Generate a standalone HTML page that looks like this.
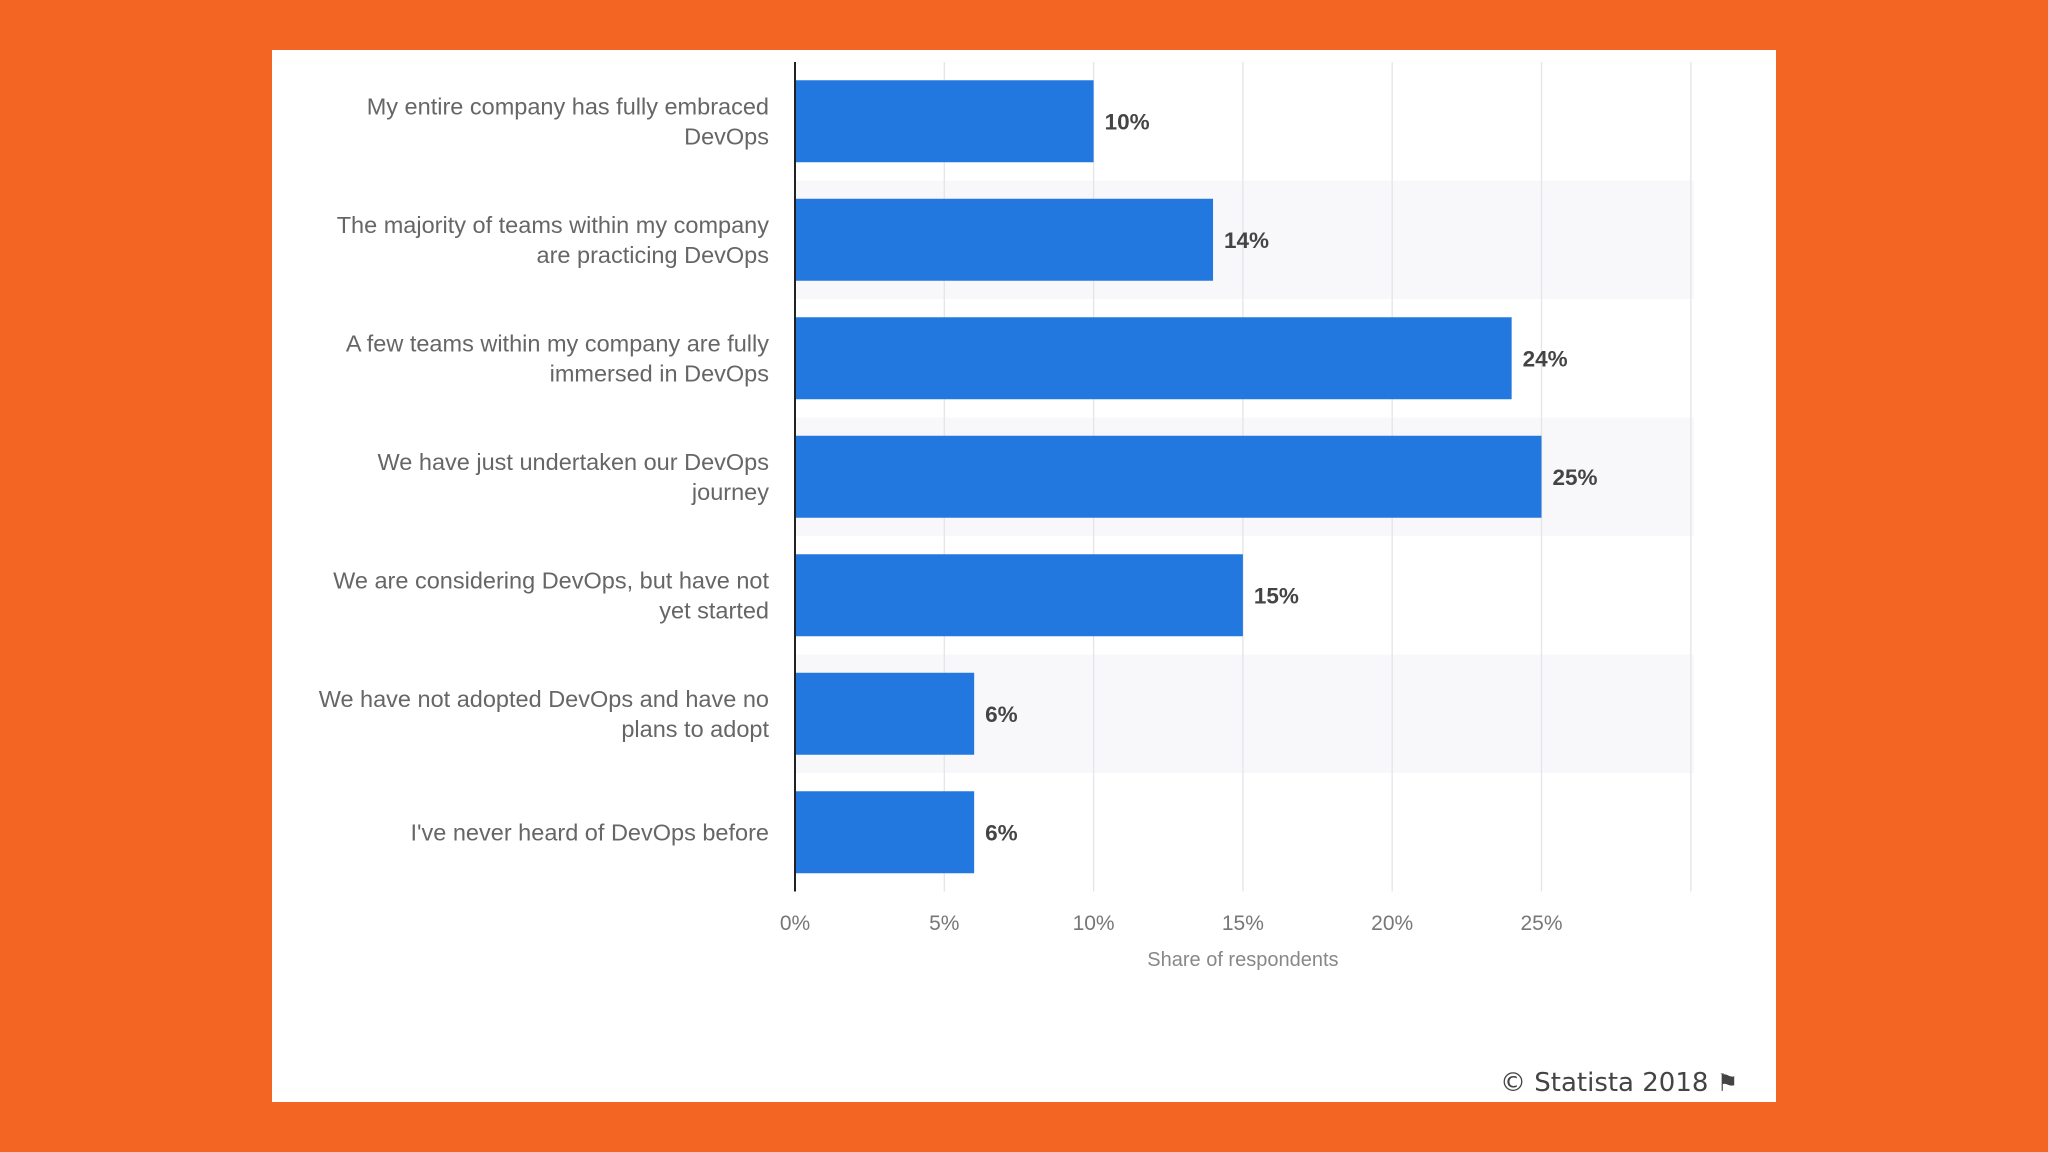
<!DOCTYPE html>
<html><head><meta charset="utf-8">
<style>
html,body{margin:0;padding:0;}
body{width:2048px;height:1152px;background:#f26522;position:relative;overflow:hidden;font-family:"Liberation Sans",sans-serif;}
#panel{position:absolute;left:272px;top:50px;width:1504px;height:1052px;background:#fff;}
#chart{position:absolute;left:0;top:0;}
#copy{position:absolute;left:1500px;top:1068px;font-size:26px;color:#444;font-family:"DejaVu Sans","Liberation Sans",sans-serif;}
</style></head><body>
<div id="panel"></div>
<svg id="chart" width="2048" height="1152"></svg>
<div id="copy">© Statista 2018 <span style="font-size:24px">⚑</span></div>
<script>
const categories=[["My entire company has fully embraced","DevOps"],["The majority of teams within my company","are practicing DevOps"],["A few teams within my company are fully","immersed in DevOps"],["We have just undertaken our DevOps","journey"],["We are considering DevOps, but have not","yet started"],["We have not adopted DevOps and have no","plans to adopt"],["I've never heard of DevOps before"]];
const values=[10,14,24,25,15,6,6];
const valueLabels=["10%","14%","24%","25%","15%","6%","6%"];
const ticks=[0,5,10,15,20,25,30];
const tickLabels=["0%","5%","10%","15%","20%","25%",""];
const NS="http://www.w3.org/2000/svg";
const svg=document.getElementById('chart');
const x0=795,pxPer=29.86,plotTop=62,band=118.5,barH=82,plotRight=1694;
const xs=v=>x0+v*pxPer;
const yc=i=>plotTop+band*(i+0.5);
function mk(t,a,txt){const e=document.createElementNS(NS,t);for(const k in a)e.setAttribute(k,a[k]);if(txt!=null)e.textContent=txt;svg.appendChild(e);return e;}
for(let i=0;i<categories.length;i++){if(i%2==1){const r=mk('rect',{x:x0,y:plotTop+band*i,width:plotRight-x0,height:band,fill:'#f8f8fa'});

}}
ticks.forEach((t,i)=>{const l=mk('line',{x1:xs(t),x2:xs(t),y1:plotTop,y2:plotTop+band*categories.length,stroke:'#e4e4ea','stroke-width':1.3});


const tl=mk('text',{x:xs(t),y:930,'text-anchor':'middle','font-size':21,fill:'#777'},tickLabels[i]);

});
values.forEach((v,i)=>{const b=mk('rect',{x:x0,y:yc(i)-barH/2,width:xs(v)-x0,height:barH,fill:'#2378df'});


const vl=mk('text',{x:xs(v)+11,y:yc(i)+8,'font-size':22.5,'font-weight':'bold',fill:'#444'},valueLabels[i]);


const lines=categories[i];const n=lines.length;
lines.forEach((ln,j)=>{const c=mk('text',{x:769,y:yc(i)+8+(j-(n-1)/2)*30,'text-anchor':'end','font-size':23.5,fill:'#666'},ln);

});});
const ax=mk('line',{x1:x0,x2:x0,y1:plotTop,y2:plotTop+band*categories.length,stroke:'#222','stroke-width':2});


const at=mk('text',{x:xs(15),y:966,'text-anchor':'middle','font-size':20,fill:'#888'},'Share of respondents');


</script>
</body></html>
